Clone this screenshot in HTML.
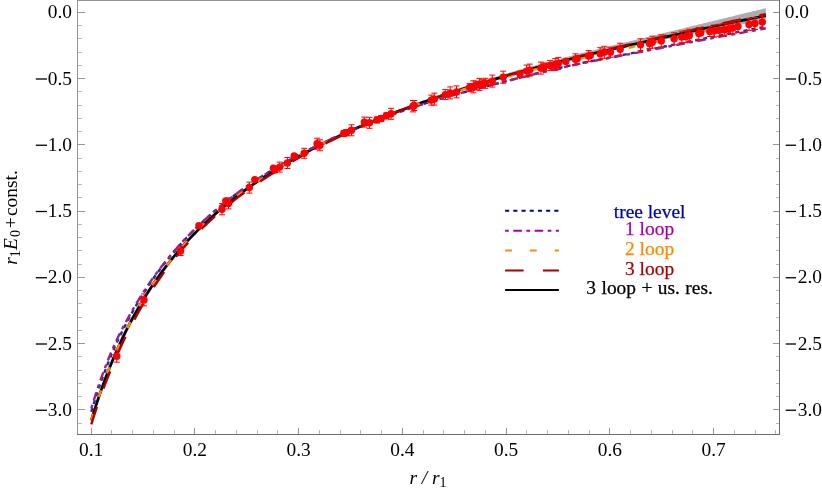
<!DOCTYPE html><html><head><meta charset="utf-8"><title>plot</title><style>html,body{margin:0;padding:0;background:#fff}svg{display:block;will-change:transform}text{font-family:"Liberation Serif",serif;}</style></head><body>
<svg width="822" height="489" viewBox="0 0 822 489">
<rect width="822" height="489" fill="#fff"/>
<path d="M91.29 418.84 L93.89 410.35 L96.48 402.23 L99.08 394.45 L101.67 386.98 L104.26 379.82 L106.86 372.93 L109.45 366.30 L112.05 359.92 L114.64 353.77 L117.24 347.83 L119.83 342.11 L122.43 336.57 L125.02 331.22 L127.61 326.04 L130.21 321.02 L132.80 316.16 L135.40 311.45 L137.99 306.88 L140.59 302.44 L143.18 298.13 L145.78 293.93 L148.37 289.86 L150.96 285.89 L153.56 282.03 L156.15 278.27 L158.75 274.60 L161.34 271.03 L163.94 267.55 L166.53 264.15 L169.13 260.83 L171.72 257.58 L174.31 254.42 L176.91 251.32 L179.50 248.29 L182.10 245.33 L184.69 242.43 L187.29 239.60 L189.88 236.82 L192.48 234.10 L195.07 231.44 L197.66 228.82 L200.26 226.26 L202.85 223.75 L205.45 221.29 L208.04 218.87 L210.64 216.50 L213.23 214.17 L215.83 211.88 L218.42 209.63 L221.01 207.42 L223.61 205.25 L226.20 203.11 L228.80 201.02 L231.39 198.95 L233.99 196.92 L236.58 194.92 L239.18 192.96 L241.77 191.02 L244.36 189.12 L246.96 187.24 L249.55 185.39 L252.15 183.57 L254.74 181.77 L257.34 180.00 L259.93 178.26 L262.53 176.54 L265.12 174.85 L267.71 173.17 L270.31 171.52 L272.90 169.90 L275.50 168.29 L278.09 166.71 L280.69 165.14 L283.28 163.60 L285.88 162.07 L288.47 160.57 L291.06 159.08 L293.66 157.61 L296.25 156.16 L298.85 154.73 L301.44 153.31 L304.04 151.91 L306.63 150.52 L309.23 149.15 L311.82 147.80 L314.41 146.46 L317.01 145.14 L319.60 143.83 L322.20 142.53 L324.79 141.25 L327.39 139.98 L329.98 138.72 L332.58 137.48 L335.17 136.25 L337.76 135.03 L340.36 133.82 L342.95 132.63 L345.55 131.44 L348.14 130.27 L350.74 129.11 L353.33 127.96 L355.93 126.82 L358.52 125.69 L361.11 124.57 L363.71 123.47 L366.30 122.37 L368.90 121.28 L371.49 120.20 L374.09 119.13 L376.68 118.07 L379.28 117.02 L381.87 115.97 L384.46 114.94 L387.06 113.91 L389.65 112.89 L392.25 111.88 L394.84 110.88 L397.44 109.89 L400.03 108.90 L402.63 107.92 L405.22 106.95 L407.81 105.99 L410.41 105.03 L413.00 104.09 L415.60 103.14 L418.19 102.21 L420.79 101.28 L423.38 100.36 L425.98 99.44 L428.57 98.54 L431.16 97.63 L433.76 96.74 L436.35 95.85 L438.95 94.96 L441.54 94.09 L444.14 93.22 L446.73 92.35 L449.33 91.49 L451.92 90.63 L454.51 89.79 L457.11 88.94 L459.70 88.10 L462.30 87.26 L464.89 86.43 L467.49 85.60 L470.08 84.77 L472.68 83.95 L475.27 83.13 L477.86 82.32 L480.46 81.51 L483.05 80.70 L485.65 79.90 L488.24 79.10 L490.84 78.31 L493.43 77.52 L496.03 76.73 L498.62 75.95 L501.21 75.17 L503.81 74.40 L506.40 73.63 L509.00 72.86 L511.59 72.11 L514.19 71.35 L516.78 70.60 L519.38 69.85 L521.97 69.11 L524.56 68.38 L527.16 67.64 L529.75 66.91 L532.35 66.19 L534.94 65.47 L537.54 64.75 L540.13 64.04 L542.73 63.33 L545.32 62.63 L547.91 61.92 L550.51 61.23 L553.10 60.53 L555.70 59.84 L558.29 59.16 L560.89 58.47 L563.48 57.79 L566.08 57.12 L568.67 56.44 L571.26 55.77 L573.86 55.11 L576.45 54.44 L579.05 53.78 L581.64 53.12 L584.24 52.47 L586.83 51.82 L589.43 51.17 L592.02 50.52 L594.61 49.88 L597.21 49.24 L599.80 48.60 L602.40 47.97 L604.99 47.33 L607.59 46.70 L610.18 46.07 L612.77 45.44 L615.37 44.81 L617.96 44.19 L620.56 43.56 L623.15 42.94 L625.75 42.31 L628.34 41.69 L630.94 41.06 L633.53 40.43 L636.12 39.81 L638.72 39.18 L641.31 38.55 L643.91 37.92 L646.50 37.29 L649.10 36.66 L651.69 36.02 L654.29 35.39 L656.88 34.75 L659.47 34.12 L662.07 33.48 L664.66 32.84 L667.26 32.21 L669.85 31.57 L672.45 30.93 L675.04 30.29 L677.64 29.66 L680.23 29.02 L682.82 28.39 L685.42 27.76 L688.01 27.12 L690.61 26.49 L693.20 25.86 L695.80 25.23 L698.39 24.61 L700.99 23.98 L703.58 23.35 L706.17 22.73 L708.77 22.10 L711.36 21.48 L713.96 20.85 L716.55 20.23 L719.15 19.60 L721.74 18.97 L724.34 18.34 L726.93 17.71 L729.52 17.06 L732.12 16.41 L734.71 15.76 L737.31 15.10 L739.90 14.45 L742.50 13.81 L745.09 13.18 L747.69 12.55 L750.28 11.93 L752.87 11.31 L755.47 10.69 L758.06 10.07 L760.66 9.45 L763.25 8.84 L765.85 8.23 L765.85 19.83 L763.25 20.32 L760.66 20.80 L758.06 21.28 L755.47 21.77 L752.87 22.26 L750.28 22.74 L747.69 23.23 L745.09 23.72 L742.50 24.21 L739.90 24.70 L737.31 25.19 L734.71 25.68 L732.12 26.18 L729.52 26.67 L726.93 27.16 L724.34 27.66 L721.74 28.15 L719.15 28.65 L716.55 29.14 L713.96 29.64 L711.36 30.14 L708.77 30.64 L706.17 31.15 L703.58 31.65 L700.99 32.16 L698.39 32.67 L695.80 33.18 L693.20 33.70 L690.61 34.21 L688.01 34.73 L685.42 35.25 L682.82 35.77 L680.23 36.30 L677.64 36.82 L675.04 37.35 L672.45 37.88 L669.85 38.41 L667.26 38.94 L664.66 39.47 L662.07 40.01 L659.47 40.54 L656.88 41.08 L654.29 41.62 L651.69 42.16 L649.10 42.70 L646.50 43.24 L643.91 43.78 L641.31 44.33 L638.72 44.87 L636.12 45.42 L633.53 45.96 L630.94 46.51 L628.34 47.06 L625.75 47.61 L623.15 48.17 L620.56 48.72 L617.96 49.28 L615.37 49.84 L612.77 50.40 L610.18 50.97 L607.59 51.54 L604.99 52.11 L602.40 52.68 L599.80 53.26 L597.21 53.83 L594.61 54.41 L592.02 54.99 L589.43 55.57 L586.83 56.15 L584.24 56.74 L581.64 57.33 L579.05 57.92 L576.45 58.52 L573.86 59.11 L571.26 59.71 L568.67 60.32 L566.08 60.92 L563.48 61.53 L560.89 62.15 L558.29 62.77 L555.70 63.39 L553.10 64.01 L550.51 64.64 L547.91 65.27 L545.32 65.91 L542.73 66.56 L540.13 67.20 L537.54 67.85 L534.94 68.51 L532.35 69.17 L529.75 69.84 L527.16 70.51 L524.56 71.19 L521.97 71.87 L519.38 72.56 L516.78 73.25 L514.19 73.96 L511.59 74.66 L509.00 75.37 L506.40 76.09 L503.81 76.82 L501.21 77.55 L498.62 78.28 L496.03 79.02 L493.43 79.77 L490.84 80.52 L488.24 81.28 L485.65 82.04 L483.05 82.81 L480.46 83.58 L477.86 84.36 L475.27 85.14 L472.68 85.93 L470.08 86.73 L467.49 87.53 L464.89 88.34 L462.30 89.16 L459.70 89.98 L457.11 90.81 L454.51 91.64 L451.92 92.48 L449.33 93.33 L446.73 94.18 L444.14 95.04 L441.54 95.91 L438.95 96.79 L436.35 97.67 L433.76 98.55 L431.16 99.45 L428.57 100.35 L425.98 101.26 L423.38 102.17 L420.79 103.09 L418.19 104.02 L415.60 104.96 L413.00 105.91 L410.41 106.86 L407.81 107.82 L405.22 108.79 L402.63 109.76 L400.03 110.75 L397.44 111.74 L394.84 112.74 L392.25 113.75 L389.65 114.76 L387.06 115.79 L384.46 116.83 L381.87 117.87 L379.28 118.92 L376.68 119.98 L374.09 121.06 L371.49 122.14 L368.90 123.23 L366.30 124.33 L363.71 125.44 L361.11 126.56 L358.52 127.69 L355.93 128.84 L353.33 129.99 L350.74 131.15 L348.14 132.33 L345.55 133.52 L342.95 134.72 L340.36 135.93 L337.76 137.15 L335.17 138.38 L332.58 139.63 L329.98 140.89 L327.39 142.16 L324.79 143.45 L322.20 144.75 L319.60 146.06 L317.01 147.39 L314.41 148.73 L311.82 150.09 L309.23 151.46 L306.63 152.85 L304.04 154.26 L301.44 155.68 L298.85 157.11 L296.25 158.56 L293.66 160.04 L291.06 161.52 L288.47 163.03 L285.88 164.56 L283.28 166.10 L280.69 167.67 L278.09 169.26 L275.50 170.86 L272.90 172.49 L270.31 174.15 L267.71 175.82 L265.12 177.52 L262.53 179.24 L259.93 180.98 L257.34 182.75 L254.74 184.55 L252.15 186.37 L249.55 188.22 L246.96 190.10 L244.36 192.01 L241.77 193.94 L239.18 195.91 L236.58 197.91 L233.99 199.94 L231.39 202.00 L228.80 204.10 L226.20 206.23 L223.61 208.40 L221.01 210.61 L218.42 212.85 L215.83 215.14 L213.23 217.46 L210.64 219.83 L208.04 222.24 L205.45 224.70 L202.85 227.20 L200.26 229.76 L197.66 232.36 L195.07 235.01 L192.48 237.73 L189.88 240.50 L187.29 243.33 L184.69 246.22 L182.10 249.18 L179.50 252.20 L176.91 255.30 L174.31 258.46 L171.72 261.70 L169.13 265.01 L166.53 268.40 L163.94 271.88 L161.34 275.44 L158.75 279.08 L156.15 282.82 L153.56 286.66 L150.96 290.59 L148.37 294.63 L145.78 298.77 L143.18 303.03 L140.59 307.41 L137.99 311.92 L135.40 316.55 L132.80 321.33 L130.21 326.26 L127.61 331.34 L125.02 336.59 L122.43 342.01 L119.83 347.61 L117.24 353.40 L114.64 359.40 L112.05 365.62 L109.45 372.07 L106.86 378.76 L104.26 385.72 L101.67 392.95 L99.08 400.48 L96.48 408.33 L93.89 416.52 L91.29 425.07Z" fill="#adadad"/>
<path d="M91.29 420.43 L93.89 411.94 L96.48 403.82 L99.08 396.04 L101.67 388.57 L104.26 381.41 L106.86 374.52 L109.45 367.89 L112.05 361.51 L114.64 355.36 L117.24 349.42 L119.83 343.70 L122.43 338.16 L125.02 332.81 L127.61 327.63 L130.21 322.61 L132.80 317.75 L135.40 313.04 L137.99 308.47 L140.59 304.03 L143.18 299.72 L145.78 295.52 L148.37 291.45 L150.96 287.48 L153.56 283.62 L156.15 279.86 L158.75 276.19 L161.34 272.62 L163.94 269.14 L166.53 265.74 L169.13 262.42 L171.72 259.17 L174.31 256.01 L176.91 252.91 L179.50 249.88 L182.10 246.92 L184.69 244.02 L187.29 241.19 L189.88 238.41 L192.48 235.69 L195.07 233.03 L197.66 230.41 L200.26 227.85 L202.85 225.34 L205.45 222.88 L208.04 220.46 L210.64 218.09 L213.23 215.76 L215.83 213.47 L218.42 211.22 L221.01 209.01 L223.61 206.84 L226.20 204.70 L228.80 202.61 L231.39 200.54 L233.99 198.51 L236.58 196.51 L239.18 194.55 L241.77 192.61 L244.36 190.71 L246.96 188.83 L249.55 186.98 L252.15 185.16 L254.74 183.36 L257.34 181.59 L259.93 179.85 L262.53 178.13 L265.12 176.44 L267.71 174.76 L270.31 173.11 L272.90 171.49 L275.50 169.88 L278.09 168.30 L280.69 166.73 L283.28 165.19 L285.88 163.66 L288.47 162.16 L291.06 160.67 L293.66 159.20 L296.25 157.75 L298.85 156.32 L301.44 154.90 L304.04 153.50 L306.63 152.11 L309.23 150.75 L311.82 149.39 L314.41 148.05 L317.01 146.73 L319.60 145.42 L322.20 144.13 L324.79 142.85 L327.39 141.58 L329.98 140.32 L332.58 139.08 L335.17 137.85 L337.76 136.64 L340.36 135.43 L342.95 134.24 L345.55 133.06 L348.14 131.89 L350.74 130.73 L353.33 129.59 L355.93 128.45 L358.52 127.33 L361.11 126.21 L363.71 125.11 L366.30 124.01 L368.90 122.93 L371.49 121.85 L374.09 120.79 L376.68 119.73 L379.28 118.68 L381.87 117.64 L384.46 116.61 L387.06 115.59 L389.65 114.58 L392.25 113.58 L394.84 112.58 L397.44 111.59 L400.03 110.61 L402.63 109.64 L405.22 108.67 L407.81 107.72 L410.41 106.77 L413.00 105.83 L415.60 104.89 L418.19 103.96 L420.79 103.04 L423.38 102.13 L425.98 101.22 L428.57 100.32 L431.16 99.42 L433.76 98.53 L436.35 97.65 L438.95 96.77 L441.54 95.90 L444.14 95.04 L446.73 94.18 L449.33 93.33 L451.92 92.48 L454.51 91.64 L457.11 90.81 L459.70 89.98 L462.30 89.15 L464.89 88.33 L467.49 87.52 L470.08 86.71 L472.68 85.90 L475.27 85.11 L477.86 84.31 L480.46 83.52 L483.05 82.74 L485.65 81.96 L488.24 81.18 L490.84 80.41 L493.43 79.65 L496.03 78.89 L498.62 78.13 L501.21 77.38 L503.81 76.63 L506.40 75.88 L509.00 75.14 L511.59 74.41 L514.19 73.68 L516.78 72.96 L519.38 72.24 L521.97 71.53 L524.56 70.83 L527.16 70.12 L529.75 69.43 L532.35 68.74 L534.94 68.05 L537.54 67.37 L540.13 66.69 L542.73 66.01 L545.32 65.34 L547.91 64.68 L550.51 64.01 L553.10 63.36 L555.70 62.70 L558.29 62.05 L560.89 61.40 L563.48 60.76 L566.08 60.12 L568.67 59.48 L571.26 58.85 L573.86 58.22 L576.45 57.59 L579.05 56.96 L581.64 56.34 L584.24 55.72 L586.83 55.10 L589.43 54.49 L592.02 53.88 L594.61 53.26 L597.21 52.66 L599.80 52.05 L602.40 51.44 L604.99 50.84 L607.59 50.24 L610.18 49.64 L612.77 49.04 L615.37 48.45 L617.96 47.85 L620.56 47.26 L623.15 46.66 L625.75 46.07 L628.34 45.48 L630.94 44.89 L633.53 44.30 L636.12 43.71 L638.72 43.12 L641.31 42.53 L643.91 41.95 L646.50 41.36 L649.10 40.77 L651.69 40.18 L654.29 39.59 L656.88 39.00 L659.47 38.41 L662.07 37.83 L664.66 37.24 L667.26 36.66 L669.85 36.07 L672.45 35.49 L675.04 34.91 L677.64 34.33 L680.23 33.75 L682.82 33.17 L685.42 32.59 L688.01 32.02 L690.61 31.45 L693.20 30.88 L695.80 30.31 L698.39 29.74 L700.99 29.18 L703.58 28.61 L706.17 28.05 L708.77 27.49 L711.36 26.94 L713.96 26.39 L716.55 25.84 L719.15 25.29 L721.74 24.74 L724.34 24.19 L726.93 23.65 L729.52 23.10 L732.12 22.56 L734.71 22.02 L737.31 21.48 L739.90 20.94 L742.50 20.40 L745.09 19.87 L747.69 19.33 L750.28 18.80 L752.87 18.27 L755.47 17.74 L758.06 17.21 L760.66 16.68 L763.25 16.15 L765.85 15.63" fill="none" stroke="#000" stroke-width="2.7"/>
<path d="M91.29 411.82 L93.89 403.34 L96.48 395.24 L99.08 387.49 L101.67 380.07 L104.26 372.96 L106.86 366.14 L109.45 359.59 L112.05 353.29 L114.64 347.26 L117.24 341.54 L119.83 336.08 L122.43 330.83 L125.02 325.76 L127.61 320.84 L130.21 316.01 L132.80 311.30 L135.40 306.74 L137.99 302.31 L140.59 298.01 L143.18 293.82 L145.78 289.76 L148.37 285.80 L150.96 281.95 L153.56 278.21 L156.15 274.55 L158.75 270.99 L161.34 267.52 L163.94 264.13 L166.53 260.83 L169.13 257.60 L171.72 254.45 L174.31 251.38 L176.91 248.37 L179.50 245.43 L182.10 242.55 L184.69 239.74 L187.29 236.99 L189.88 234.30 L192.48 231.67 L195.07 229.09 L197.66 226.56 L200.26 224.08 L202.85 221.65 L205.45 219.26 L208.04 216.92 L210.64 214.63 L213.23 212.37 L215.83 210.16 L218.42 207.99 L221.01 205.85 L223.61 203.75 L226.20 201.69 L228.80 199.66 L231.39 197.67 L233.99 195.70 L236.58 193.77 L239.18 191.88 L241.77 190.01 L244.36 188.17 L246.96 186.35 L249.55 184.57 L252.15 182.81 L254.74 181.08 L257.34 179.38 L259.93 177.70 L262.53 176.04 L265.12 174.41 L267.71 172.80 L270.31 171.21 L272.90 169.64 L275.50 168.10 L278.09 166.58 L280.69 165.07 L283.28 163.59 L285.88 162.12 L288.47 160.67 L291.06 159.24 L293.66 157.82 L296.25 156.42 L298.85 155.04 L301.44 153.68 L304.04 152.33 L306.63 150.99 L309.23 149.67 L311.82 148.37 L314.41 147.08 L317.01 145.81 L319.60 144.55 L322.20 143.30 L324.79 142.07 L327.39 140.85 L329.98 139.65 L332.58 138.46 L335.17 137.28 L337.76 136.12 L340.36 134.97 L342.95 133.83 L345.55 132.70 L348.14 131.59 L350.74 130.49 L353.33 129.40 L355.93 128.33 L358.52 127.27 L361.11 126.21 L363.71 125.18 L366.30 124.15 L368.90 123.13 L371.49 122.13 L374.09 121.13 L376.68 120.15 L379.28 119.17 L381.87 118.21 L384.46 117.25 L387.06 116.31 L389.65 115.37 L392.25 114.45 L394.84 113.53 L397.44 112.63 L400.03 111.73 L402.63 110.84 L405.22 109.96 L407.81 109.09 L410.41 108.22 L413.00 107.37 L415.60 106.52 L418.19 105.68 L420.79 104.84 L423.38 104.02 L425.98 103.20 L428.57 102.39 L431.16 101.59 L433.76 100.79 L436.35 100.01 L438.95 99.23 L441.54 98.47 L444.14 97.71 L446.73 96.97 L449.33 96.23 L451.92 95.50 L454.51 94.79 L457.11 94.07 L459.70 93.37 L462.30 92.67 L464.89 91.98 L467.49 91.29 L470.08 90.60 L472.68 89.92 L475.27 89.25 L477.86 88.57 L480.46 87.90 L483.05 87.23 L485.65 86.56 L488.24 85.90 L490.84 85.23 L493.43 84.56 L496.03 83.89 L498.62 83.22 L501.21 82.55 L503.81 81.87 L506.40 81.19 L509.00 80.51 L511.59 79.83 L514.19 79.16 L516.78 78.49 L519.38 77.82 L521.97 77.15 L524.56 76.48 L527.16 75.82 L529.75 75.17 L532.35 74.51 L534.94 73.86 L537.54 73.21 L540.13 72.57 L542.73 71.93 L545.32 71.30 L547.91 70.67 L550.51 70.05 L553.10 69.43 L555.70 68.82 L558.29 68.21 L560.89 67.61 L563.48 67.02 L566.08 66.43 L568.67 65.85 L571.26 65.28 L573.86 64.71 L576.45 64.16 L579.05 63.61 L581.64 63.07 L584.24 62.53 L586.83 62.00 L589.43 61.47 L592.02 60.95 L594.61 60.44 L597.21 59.92 L599.80 59.42 L602.40 58.91 L604.99 58.40 L607.59 57.90 L610.18 57.40 L612.77 56.90 L615.37 56.40 L617.96 55.90 L620.56 55.40 L623.15 54.89 L625.75 54.39 L628.34 53.88 L630.94 53.37 L633.53 52.86 L636.12 52.34 L638.72 51.82 L641.31 51.29 L643.91 50.76 L646.50 50.23 L649.10 49.70 L651.69 49.17 L654.29 48.64 L656.88 48.11 L659.47 47.58 L662.07 47.05 L664.66 46.52 L667.26 45.99 L669.85 45.46 L672.45 44.94 L675.04 44.41 L677.64 43.88 L680.23 43.36 L682.82 42.83 L685.42 42.31 L688.01 41.79 L690.61 41.27 L693.20 40.75 L695.80 40.23 L698.39 39.71 L700.99 39.20 L703.58 38.68 L706.17 38.17 L708.77 37.66 L711.36 37.15 L713.96 36.64 L716.55 36.13 L719.15 35.63 L721.74 35.12 L724.34 34.61 L726.93 34.11 L729.52 33.60 L732.12 33.10 L734.71 32.60 L737.31 32.09 L739.90 31.59 L742.50 31.08 L745.09 30.58 L747.69 30.08 L750.28 29.57 L752.87 29.07 L755.47 28.57 L758.06 28.06 L760.66 27.56 L763.25 27.06 L765.85 26.55" fill="none" stroke="#2a24a8" stroke-width="2.4" stroke-dasharray="4.1 4.1"/>
<path d="M91.29 408.51 L93.89 400.03 L96.48 391.94 L99.08 384.22 L101.67 376.83 L104.26 369.76 L106.86 362.99 L109.45 356.48 L112.05 350.24 L114.64 344.31 L117.24 338.74 L119.83 333.48 L122.43 328.46 L125.02 323.60 L127.61 318.86 L130.21 314.17 L132.80 309.57 L135.40 305.11 L137.99 300.78 L140.59 296.57 L143.18 292.48 L145.78 288.51 L148.37 284.64 L150.96 280.87 L153.56 277.20 L156.15 273.63 L158.75 270.14 L161.34 266.74 L163.94 263.42 L166.53 260.18 L169.13 257.01 L171.72 253.91 L174.31 250.89 L176.91 247.93 L179.50 245.03 L182.10 242.19 L184.69 239.42 L187.29 236.70 L189.88 234.04 L192.48 231.42 L195.07 228.87 L197.66 226.36 L200.26 223.90 L202.85 221.48 L205.45 219.12 L208.04 216.79 L210.64 214.51 L213.23 212.27 L215.83 210.07 L218.42 207.90 L221.01 205.78 L223.61 203.69 L226.20 201.63 L228.80 199.61 L231.39 197.62 L233.99 195.66 L236.58 193.74 L239.18 191.84 L241.77 189.98 L244.36 188.14 L246.96 186.33 L249.55 184.55 L252.15 182.80 L254.74 181.07 L257.34 179.36 L259.93 177.68 L262.53 176.03 L265.12 174.40 L267.71 172.79 L270.31 171.20 L272.90 169.64 L275.50 168.10 L278.09 166.58 L280.69 165.07 L283.28 163.59 L285.88 162.12 L288.47 160.68 L291.06 159.25 L293.66 157.83 L296.25 156.43 L298.85 155.05 L301.44 153.69 L304.04 152.34 L306.63 151.00 L309.23 149.69 L311.82 148.38 L314.41 147.09 L317.01 145.82 L319.60 144.56 L322.20 143.31 L324.79 142.08 L327.39 140.86 L329.98 139.66 L332.58 138.46 L335.17 137.29 L337.76 136.12 L340.36 134.97 L342.95 133.83 L345.55 132.71 L348.14 131.59 L350.74 130.49 L353.33 129.40 L355.93 128.33 L358.52 127.27 L361.11 126.21 L363.71 125.18 L366.30 124.15 L368.90 123.13 L371.49 122.13 L374.09 121.13 L376.68 120.15 L379.28 119.17 L381.87 118.21 L384.46 117.25 L387.06 116.31 L389.65 115.37 L392.25 114.45 L394.84 113.53 L397.44 112.63 L400.03 111.73 L402.63 110.84 L405.22 109.96 L407.81 109.09 L410.41 108.22 L413.00 107.37 L415.60 106.52 L418.19 105.68 L420.79 104.84 L423.38 104.02 L425.98 103.20 L428.57 102.39 L431.16 101.59 L433.76 100.79 L436.35 100.01 L438.95 99.23 L441.54 98.46 L444.14 97.71 L446.73 96.96 L449.33 96.22 L451.92 95.49 L454.51 94.77 L457.11 94.05 L459.70 93.34 L462.30 92.64 L464.89 91.94 L467.49 91.25 L470.08 90.57 L472.68 89.88 L475.27 89.21 L477.86 88.53 L480.46 87.86 L483.05 87.19 L485.65 86.52 L488.24 85.85 L490.84 85.19 L493.43 84.52 L496.03 83.86 L498.62 83.19 L501.21 82.53 L503.81 81.86 L506.40 81.19 L509.00 80.52 L511.59 79.86 L514.19 79.19 L516.78 78.53 L519.38 77.87 L521.97 77.21 L524.56 76.56 L527.16 75.91 L529.75 75.26 L532.35 74.62 L534.94 73.98 L537.54 73.34 L540.13 72.71 L542.73 72.09 L545.32 71.46 L547.91 70.85 L550.51 70.24 L553.10 69.63 L555.70 69.03 L558.29 68.43 L560.89 67.85 L563.48 67.26 L566.08 66.69 L568.67 66.12 L571.26 65.56 L573.86 65.00 L576.45 64.45 L579.05 63.91 L581.64 63.38 L584.24 62.85 L586.83 62.32 L589.43 61.80 L592.02 61.29 L594.61 60.77 L597.21 60.27 L599.80 59.76 L602.40 59.26 L604.99 58.76 L607.59 58.27 L610.18 57.77 L612.77 57.28 L615.37 56.78 L617.96 56.29 L620.56 55.80 L623.15 55.31 L625.75 54.82 L628.34 54.32 L630.94 53.83 L633.53 53.33 L636.12 52.83 L638.72 52.33 L641.31 51.82 L643.91 51.32 L646.50 50.81 L649.10 50.30 L651.69 49.80 L654.29 49.29 L656.88 48.78 L659.47 48.28 L662.07 47.77 L664.66 47.26 L667.26 46.76 L669.85 46.25 L672.45 45.75 L675.04 45.24 L677.64 44.74 L680.23 44.24 L682.82 43.74 L685.42 43.24 L688.01 42.74 L690.61 42.24 L693.20 41.75 L695.80 41.26 L698.39 40.76 L700.99 40.27 L703.58 39.78 L706.17 39.30 L708.77 38.81 L711.36 38.33 L713.96 37.85 L716.55 37.37 L719.15 36.89 L721.74 36.41 L724.34 35.93 L726.93 35.46 L729.52 34.98 L732.12 34.51 L734.71 34.03 L737.31 33.56 L739.90 33.09 L742.50 32.61 L745.09 32.14 L747.69 31.67 L750.28 31.20 L752.87 30.73 L755.47 30.26 L758.06 29.80 L760.66 29.33 L763.25 28.86 L765.85 28.39" fill="none" stroke="#962387" stroke-width="2.4" stroke-dasharray="8.6 4.5 3.7 4.5" stroke-dashoffset="13.1"/>
<path d="M91.29 420.43 L93.89 411.94 L96.48 403.82 L99.08 396.04 L101.67 388.57 L104.26 381.41 L106.86 374.52 L109.45 367.89 L112.05 361.51 L114.64 355.36 L117.24 349.42 L119.83 343.70 L122.43 338.16 L125.02 332.81 L127.61 327.63 L130.21 322.61 L132.80 317.75 L135.40 313.04 L137.99 308.47 L140.59 304.03 L143.18 299.72 L145.78 295.52 L148.37 291.45 L150.96 287.48 L153.56 283.62 L156.15 279.86 L158.75 276.19 L161.34 272.62 L163.94 269.14 L166.53 265.74 L169.13 262.42 L171.72 259.17 L174.31 256.01 L176.91 252.91 L179.50 249.88 L182.10 246.92 L184.69 244.02 L187.29 241.19 L189.88 238.41 L192.48 235.69 L195.07 233.03 L197.66 230.41 L200.26 227.85 L202.85 225.34 L205.45 222.88 L208.04 220.46 L210.64 218.09 L213.23 215.76 L215.83 213.47 L218.42 211.22 L221.01 209.01 L223.61 206.84 L226.20 204.70 L228.80 202.61 L231.39 200.54 L233.99 198.51 L236.58 196.51 L239.18 194.55 L241.77 192.61 L244.36 190.71 L246.96 188.83 L249.55 186.98 L252.15 185.16 L254.74 183.36 L257.34 181.59 L259.93 179.85 L262.53 178.13 L265.12 176.44 L267.71 174.76 L270.31 173.11 L272.90 171.49 L275.50 169.88 L278.09 168.30 L280.69 166.73 L283.28 165.19 L285.88 163.66 L288.47 162.16 L291.06 160.67 L293.66 159.20 L296.25 157.75 L298.85 156.32 L301.44 154.90 L304.04 153.50 L306.63 152.11 L309.23 150.75 L311.82 149.39 L314.41 148.05 L317.01 146.73 L319.60 145.42 L322.20 144.13 L324.79 142.85 L327.39 141.58 L329.98 140.32 L332.58 139.08 L335.17 137.85 L337.76 136.64 L340.36 135.43 L342.95 134.24 L345.55 133.06 L348.14 131.89 L350.74 130.73 L353.33 129.59 L355.93 128.45 L358.52 127.33 L361.11 126.21 L363.71 125.11 L366.30 124.01 L368.90 122.93 L371.49 121.85 L374.09 120.79 L376.68 119.73 L379.28 118.68 L381.87 117.64 L384.46 116.61 L387.06 115.59 L389.65 114.58 L392.25 113.58 L394.84 112.58 L397.44 111.59 L400.03 110.61 L402.63 109.64 L405.22 108.68 L407.81 107.72 L410.41 106.78 L413.00 105.85 L415.60 104.92 L418.19 104.01 L420.79 103.10 L423.38 102.20 L425.98 101.31 L428.57 100.43 L431.16 99.56 L433.76 98.70 L436.35 97.84 L438.95 96.99 L441.54 96.15 L444.14 95.31 L446.73 94.48 L449.33 93.66 L451.92 92.85 L454.51 92.04 L457.11 91.24 L459.70 90.44 L462.30 89.65 L464.89 88.87 L467.49 88.09 L470.08 87.31 L472.68 86.55 L475.27 85.78 L477.86 85.02 L480.46 84.27 L483.05 83.52 L485.65 82.77 L488.24 82.03 L490.84 81.30 L493.43 80.56 L496.03 79.83 L498.62 79.11 L501.21 78.38 L503.81 77.66 L506.40 76.95 L509.00 76.24 L511.59 75.53 L514.19 74.83 L516.78 74.14 L519.38 73.45 L521.97 72.77 L524.56 72.09 L527.16 71.42 L529.75 70.76 L532.35 70.09 L534.94 69.44 L537.54 68.79 L540.13 68.14 L542.73 67.50 L545.32 66.86 L547.91 66.23 L550.51 65.60 L553.10 64.97 L555.70 64.35 L558.29 63.73 L560.89 63.11 L563.48 62.50 L566.08 61.89 L568.67 61.29 L571.26 60.68 L573.86 60.08 L576.45 59.48 L579.05 58.89 L581.64 58.30 L584.24 57.70 L586.83 57.12 L589.43 56.53 L592.02 55.94 L594.61 55.36 L597.21 54.78 L599.80 54.20 L602.40 53.62 L604.99 53.04 L607.59 52.46 L610.18 51.88 L612.77 51.31 L615.37 50.73 L617.96 50.15 L620.56 49.58 L623.15 49.00 L625.75 48.43 L628.34 47.85 L630.94 47.28 L633.53 46.70 L636.12 46.13 L638.72 45.55 L641.31 44.98 L643.91 44.40 L646.50 43.83 L649.10 43.25 L651.69 42.68 L654.29 42.10 L656.88 41.53 L659.47 40.96 L662.07 40.38 L664.66 39.81 L667.26 39.24 L669.85 38.67 L672.45 38.10 L675.04 37.53 L677.64 36.96 L680.23 36.40 L682.82 35.83 L685.42 35.27 L688.01 34.70 L690.61 34.14 L693.20 33.58 L695.80 33.03 L698.39 32.47 L700.99 31.92 L703.58 31.36 L706.17 30.81 L708.77 30.27 L711.36 29.72 L713.96 29.18 L716.55 28.64 L719.15 28.10 L721.74 27.56 L724.34 27.02 L726.93 26.48 L729.52 25.95 L732.12 25.41 L734.71 24.88 L737.31 24.34 L739.90 23.81 L742.50 23.28 L745.09 22.75 L747.69 22.22 L750.28 21.69 L752.87 21.16 L755.47 20.64 L758.06 20.11 L760.66 19.59 L763.25 19.06 L765.85 18.54" fill="none" stroke="#ff8800" stroke-width="2.4" stroke-dasharray="6.8 18"/>
<path d="M91.29 424.38 L93.89 416.17 L96.48 408.30 L99.08 400.74 L101.67 393.46 L104.26 386.44 L106.86 379.67 L109.45 373.13 L112.05 366.80 L114.64 360.66 L117.24 354.69 L119.83 348.89 L122.43 343.25 L125.02 337.78 L127.61 332.49 L130.21 327.37 L132.80 322.41 L135.40 317.60 L137.99 312.92 L140.59 308.37 L143.18 303.94 L145.78 299.63 L148.37 295.44 L150.96 291.35 L153.56 287.37 L156.15 283.48 L158.75 279.70 L161.34 276.01 L163.94 272.40 L166.53 268.89 L169.13 265.45 L171.72 262.10 L174.31 258.83 L176.91 255.64 L179.50 252.52 L182.10 249.47 L184.69 246.50 L187.29 243.59 L189.88 240.76 L192.48 237.99 L195.07 235.28 L197.66 232.63 L200.26 230.04 L202.85 227.50 L205.45 225.01 L208.04 222.56 L210.64 220.16 L213.23 217.81 L215.83 215.50 L218.42 213.23 L221.01 211.00 L223.61 208.81 L226.20 206.66 L228.80 204.54 L231.39 202.46 L233.99 200.41 L236.58 198.40 L239.18 196.42 L241.77 194.47 L244.36 192.55 L246.96 190.65 L249.55 188.79 L252.15 186.95 L254.74 185.14 L257.34 183.35 L259.93 181.59 L262.53 179.86 L265.12 178.14 L267.71 176.45 L270.31 174.78 L272.90 173.13 L275.50 171.50 L278.09 169.89 L280.69 168.29 L283.28 166.72 L285.88 165.16 L288.47 163.62 L291.06 162.10 L293.66 160.59 L296.25 159.10 L298.85 157.63 L301.44 156.17 L304.04 154.72 L306.63 153.29 L309.23 151.88 L311.82 150.48 L314.41 149.10 L317.01 147.73 L319.60 146.38 L322.20 145.04 L324.79 143.71 L327.39 142.40 L329.98 141.10 L332.58 139.82 L335.17 138.55 L337.76 137.30 L340.36 136.05 L342.95 134.83 L345.55 133.61 L348.14 132.41 L350.74 131.22 L353.33 130.05 L355.93 128.89 L358.52 127.74 L361.11 126.61 L363.71 125.49 L366.30 124.38 L368.90 123.28 L371.49 122.19 L374.09 121.11 L376.68 120.03 L379.28 118.97 L381.87 117.92 L384.46 116.88 L387.06 115.85 L389.65 114.82 L392.25 113.81 L394.84 112.80 L397.44 111.80 L400.03 110.81 L402.63 109.83 L405.22 108.86 L407.81 107.89 L410.41 106.93 L413.00 105.98 L415.60 105.04 L418.19 104.10 L420.79 103.17 L423.38 102.25 L425.98 101.33 L428.57 100.42 L431.16 99.51 L433.76 98.62 L436.35 97.72 L438.95 96.84 L441.54 95.96 L444.14 95.08 L446.73 94.21 L449.33 93.35 L451.92 92.49 L454.51 91.64 L457.11 90.79 L459.70 89.95 L462.30 89.11 L464.89 88.28 L467.49 87.45 L470.08 86.63 L472.68 85.82 L475.27 85.00 L477.86 84.20 L480.46 83.40 L483.05 82.60 L485.65 81.81 L488.24 81.02 L490.84 80.23 L493.43 79.45 L496.03 78.68 L498.62 77.91 L501.21 77.14 L503.81 76.38 L506.40 75.62 L509.00 74.87 L511.59 74.12 L514.19 73.38 L516.78 72.64 L519.38 71.91 L521.97 71.19 L524.56 70.47 L527.16 69.75 L529.75 69.04 L532.35 68.33 L534.94 67.63 L537.54 66.94 L540.13 66.24 L542.73 65.56 L545.32 64.87 L547.91 64.19 L550.51 63.52 L553.10 62.84 L555.70 62.18 L558.29 61.51 L560.89 60.85 L563.48 60.19 L566.08 59.54 L568.67 58.89 L571.26 58.24 L573.86 57.60 L576.45 56.95 L579.05 56.32 L581.64 55.68 L584.24 55.05 L586.83 54.42 L589.43 53.79 L592.02 53.16 L594.61 52.54 L597.21 51.92 L599.80 51.30 L602.40 50.68 L604.99 50.07 L607.59 49.46 L610.18 48.84 L612.77 48.23 L615.37 47.63 L617.96 47.02 L620.56 46.41 L623.15 45.81 L625.75 45.21 L628.34 44.60 L630.94 44.00 L633.53 43.40 L636.12 42.80 L638.72 42.20 L641.31 41.60 L643.91 41.00 L646.50 40.40 L649.10 39.80 L651.69 39.20 L654.29 38.60 L656.88 38.00 L659.47 37.40 L662.07 36.81 L664.66 36.21 L667.26 35.61 L669.85 35.02 L672.45 34.42 L675.04 33.83 L677.64 33.24 L680.23 32.65 L682.82 32.06 L685.42 31.47 L688.01 30.89 L690.61 30.31 L693.20 29.73 L695.80 29.15 L698.39 28.57 L700.99 27.99 L703.58 27.42 L706.17 26.85 L708.77 26.28 L711.36 25.72 L713.96 25.15 L716.55 24.59 L719.15 24.03 L721.74 23.48 L724.34 22.92 L726.93 22.37 L729.52 21.81 L732.12 21.26 L734.71 20.71 L737.31 20.16 L739.90 19.61 L742.50 19.06 L745.09 18.52 L747.69 17.97 L750.28 17.43 L752.87 16.89 L755.47 16.35 L758.06 15.81 L760.66 15.27 L763.25 14.74 L765.85 14.20" fill="none" stroke="#aa0000" stroke-width="2.4" stroke-dasharray="18.5 19.3"/>
<g stroke-width="1" fill="none" shape-rendering="crispEdges">
<path stroke="#949494" d="M77.5 12.5h7M779.5 12.5h-7"/>
<path stroke="#b8b8b8" d="M77.5 25.5h4M779.5 25.5h-4"/>
<path stroke="#b8b8b8" d="M77.5 38.5h4M779.5 38.5h-4"/>
<path stroke="#b8b8b8" d="M77.5 52.5h4M779.5 52.5h-4"/>
<path stroke="#b8b8b8" d="M77.5 65.5h4M779.5 65.5h-4"/>
<path stroke="#949494" d="M77.5 78.5h7M779.5 78.5h-7"/>
<path stroke="#b8b8b8" d="M77.5 91.5h4M779.5 91.5h-4"/>
<path stroke="#b8b8b8" d="M77.5 105.5h4M779.5 105.5h-4"/>
<path stroke="#b8b8b8" d="M77.5 118.5h4M779.5 118.5h-4"/>
<path stroke="#b8b8b8" d="M77.5 131.5h4M779.5 131.5h-4"/>
<path stroke="#949494" d="M77.5 144.5h7M779.5 144.5h-7"/>
<path stroke="#b8b8b8" d="M77.5 158.5h4M779.5 158.5h-4"/>
<path stroke="#b8b8b8" d="M77.5 171.5h4M779.5 171.5h-4"/>
<path stroke="#b8b8b8" d="M77.5 184.5h4M779.5 184.5h-4"/>
<path stroke="#b8b8b8" d="M77.5 197.5h4M779.5 197.5h-4"/>
<path stroke="#949494" d="M77.5 211.5h7M779.5 211.5h-7"/>
<path stroke="#b8b8b8" d="M77.5 224.5h4M779.5 224.5h-4"/>
<path stroke="#b8b8b8" d="M77.5 237.5h4M779.5 237.5h-4"/>
<path stroke="#b8b8b8" d="M77.5 250.5h4M779.5 250.5h-4"/>
<path stroke="#b8b8b8" d="M77.5 264.5h4M779.5 264.5h-4"/>
<path stroke="#949494" d="M77.5 277.5h7M779.5 277.5h-7"/>
<path stroke="#b8b8b8" d="M77.5 290.5h4M779.5 290.5h-4"/>
<path stroke="#b8b8b8" d="M77.5 303.5h4M779.5 303.5h-4"/>
<path stroke="#b8b8b8" d="M77.5 317.5h4M779.5 317.5h-4"/>
<path stroke="#b8b8b8" d="M77.5 330.5h4M779.5 330.5h-4"/>
<path stroke="#949494" d="M77.5 343.5h7M779.5 343.5h-7"/>
<path stroke="#b8b8b8" d="M77.5 356.5h4M779.5 356.5h-4"/>
<path stroke="#b8b8b8" d="M77.5 370.5h4M779.5 370.5h-4"/>
<path stroke="#b8b8b8" d="M77.5 383.5h4M779.5 383.5h-4"/>
<path stroke="#b8b8b8" d="M77.5 396.5h4M779.5 396.5h-4"/>
<path stroke="#949494" d="M77.5 409.5h7M779.5 409.5h-7"/>
<path stroke="#b8b8b8" d="M77.5 423.5h4M779.5 423.5h-4"/>
<path stroke="#949494" d="M91.5 434.5v-6.5"/>
<path stroke="#b8b8b8" d="M111.5 434.5v-4.5"/>
<path stroke="#b8b8b8" d="M132.5 434.5v-4.5"/>
<path stroke="#b8b8b8" d="M153.5 434.5v-4.5"/>
<path stroke="#b8b8b8" d="M174.5 434.5v-4.5"/>
<path stroke="#949494" d="M194.5 434.5v-6.5"/>
<path stroke="#b8b8b8" d="M215.5 434.5v-4.5"/>
<path stroke="#b8b8b8" d="M236.5 434.5v-4.5"/>
<path stroke="#b8b8b8" d="M257.5 434.5v-4.5"/>
<path stroke="#b8b8b8" d="M277.5 434.5v-4.5"/>
<path stroke="#949494" d="M298.5 434.5v-6.5"/>
<path stroke="#b8b8b8" d="M319.5 434.5v-4.5"/>
<path stroke="#b8b8b8" d="M340.5 434.5v-4.5"/>
<path stroke="#b8b8b8" d="M360.5 434.5v-4.5"/>
<path stroke="#b8b8b8" d="M381.5 434.5v-4.5"/>
<path stroke="#949494" d="M402.5 434.5v-6.5"/>
<path stroke="#b8b8b8" d="M423.5 434.5v-4.5"/>
<path stroke="#b8b8b8" d="M443.5 434.5v-4.5"/>
<path stroke="#b8b8b8" d="M464.5 434.5v-4.5"/>
<path stroke="#b8b8b8" d="M485.5 434.5v-4.5"/>
<path stroke="#949494" d="M506.5 434.5v-6.5"/>
<path stroke="#b8b8b8" d="M526.5 434.5v-4.5"/>
<path stroke="#b8b8b8" d="M547.5 434.5v-4.5"/>
<path stroke="#b8b8b8" d="M568.5 434.5v-4.5"/>
<path stroke="#b8b8b8" d="M589.5 434.5v-4.5"/>
<path stroke="#949494" d="M609.5 434.5v-6.5"/>
<path stroke="#b8b8b8" d="M630.5 434.5v-4.5"/>
<path stroke="#b8b8b8" d="M651.5 434.5v-4.5"/>
<path stroke="#b8b8b8" d="M672.5 434.5v-4.5"/>
<path stroke="#b8b8b8" d="M692.5 434.5v-4.5"/>
<path stroke="#949494" d="M713.5 434.5v-6.5"/>
<path stroke="#b8b8b8" d="M734.5 434.5v-4.5"/>
<path stroke="#b8b8b8" d="M755.5 434.5v-4.5"/>
<path stroke="#b8b8b8" d="M775.5 434.5v-4.5"/>
<path stroke="#949494" d="M77.5 434.5V0.5H779.5"/>
<path stroke="#6c6c6c" d="M779.5 0V434.5M77.0 434.5H780.0"/>
</g>
<text x="72" y="18.30" font-size="19.4" text-anchor="end">0.0</text>
<text x="784.8" y="18.30" font-size="19.4" text-anchor="start">0.0</text>
<text x="72" y="84.55" font-size="19.4" text-anchor="end">0.5</text>
<text x="797.8" y="84.55" font-size="19.4" text-anchor="start">0.5</text>
<rect x="35.8" y="78.35" width="11.2" height="1.3" fill="#000"/>
<rect x="785.7" y="78.35" width="10.3" height="1.3" fill="#000"/>
<text x="72" y="150.80" font-size="19.4" text-anchor="end">1.0</text>
<text x="797.8" y="150.80" font-size="19.4" text-anchor="start">1.0</text>
<rect x="35.8" y="144.60" width="11.2" height="1.3" fill="#000"/>
<rect x="785.7" y="144.60" width="10.3" height="1.3" fill="#000"/>
<text x="72" y="217.05" font-size="19.4" text-anchor="end">1.5</text>
<text x="797.8" y="217.05" font-size="19.4" text-anchor="start">1.5</text>
<rect x="35.8" y="210.85" width="11.2" height="1.3" fill="#000"/>
<rect x="785.7" y="210.85" width="10.3" height="1.3" fill="#000"/>
<text x="72" y="283.30" font-size="19.4" text-anchor="end">2.0</text>
<text x="797.8" y="283.30" font-size="19.4" text-anchor="start">2.0</text>
<rect x="35.8" y="277.10" width="11.2" height="1.3" fill="#000"/>
<rect x="785.7" y="277.10" width="10.3" height="1.3" fill="#000"/>
<text x="72" y="349.55" font-size="19.4" text-anchor="end">2.5</text>
<text x="797.8" y="349.55" font-size="19.4" text-anchor="start">2.5</text>
<rect x="35.8" y="343.35" width="11.2" height="1.3" fill="#000"/>
<rect x="785.7" y="343.35" width="10.3" height="1.3" fill="#000"/>
<text x="72" y="415.80" font-size="19.4" text-anchor="end">3.0</text>
<text x="797.8" y="415.80" font-size="19.4" text-anchor="start">3.0</text>
<rect x="35.8" y="409.60" width="11.2" height="1.3" fill="#000"/>
<rect x="785.7" y="409.60" width="10.3" height="1.3" fill="#000"/>
<text x="91.10" y="455.8" font-size="19.4" text-anchor="middle">0.1</text>
<text x="194.85" y="455.8" font-size="19.4" text-anchor="middle">0.2</text>
<text x="298.60" y="455.8" font-size="19.4" text-anchor="middle">0.3</text>
<text x="402.35" y="455.8" font-size="19.4" text-anchor="middle">0.4</text>
<text x="506.10" y="455.8" font-size="19.4" text-anchor="middle">0.5</text>
<text x="609.85" y="455.8" font-size="19.4" text-anchor="middle">0.6</text>
<text x="713.60" y="455.8" font-size="19.4" text-anchor="middle">0.7</text>
<text x="428" y="483.8" font-size="19.4" text-anchor="middle" font-style="italic">r / r<tspan font-size="14" dy="3.4" font-style="normal">1</tspan></text>
<g transform="rotate(-90)" font-size="19.4">
<text x="-264.80" y="16.90" font-style="italic">r</text>
<text x="-257.20" y="19.70" font-size="14">1</text>
<text x="-249.90" y="16.90" font-style="italic">E</text>
<text x="-236.90" y="19.70" font-size="14">0</text>
<text x="-228.20" y="17.30" >+</text>
<text x="-216.05" y="16.90" >const.</text>
</g>
<path d="M505.1 210.8H558.9" stroke="#00009c" stroke-width="2" stroke-dasharray="4.1 4.1" fill="none"/>
<text x="649.6" y="217.8" font-size="19.4" fill="#0000b4" text-anchor="middle" stroke="#0000b4" stroke-width="0.25" word-spacing="0">tree level</text>
<path d="M505.1 230.7H558.9" stroke="#aa00aa" stroke-width="2" stroke-dasharray="8.6 4.5 3.7 4.5" stroke-dashoffset="13.1" fill="none"/>
<text x="649.6" y="235.0" font-size="19.4" fill="#aa00aa" text-anchor="middle" stroke="#aa00aa" stroke-width="0.25" word-spacing="0">1 loop</text>
<path d="M505.1 250.5H558.9" stroke="#ff8800" stroke-width="2" stroke-dasharray="6.8 18" fill="none"/>
<text x="649.6" y="255.0" font-size="19.4" fill="#ff8800" text-anchor="middle" stroke="#ff8800" stroke-width="0.25" word-spacing="0">2 loop</text>
<path d="M505.1 270.5H558.9" stroke="#aa0000" stroke-width="2" stroke-dasharray="18.5 19.3" fill="none"/>
<text x="649.6" y="274.8" font-size="19.4" fill="#aa0000" text-anchor="middle" stroke="#aa0000" stroke-width="0.25" word-spacing="0">3 loop</text>
<path d="M505.1 290.0H558.9" stroke="#000" stroke-width="2" fill="none"/>
<text x="649.6" y="294.2" font-size="19.4" fill="#000" text-anchor="middle" stroke="#000" stroke-width="0.25" word-spacing="0.6">3 loop + us. res.</text>
<g stroke="#ff0000" stroke-width="1" fill="none">
<path d="M116.8 350.2V362.2M113.8 350.2h6M113.8 362.2h6"/>
<path d="M144.0 293.9V305.9M141.0 293.9h6M141.0 305.9h6"/>
<path d="M180.6 246.5V255.5M177.6 246.5h6M177.6 255.5h6"/>
<path d="M222.0 203.6V214.8M219.0 203.6h6M219.0 214.8h6"/>
<path d="M228.5 197.9V208.9M225.5 197.9h6M225.5 208.9h6"/>
<path d="M249.4 182.1V193.1M246.4 182.1h6M246.4 193.1h6"/>
<path d="M279.7 162.1V172.1M276.7 162.1h6M276.7 172.1h6"/>
<path d="M287.4 157.5V168.5M284.4 157.5h6M284.4 168.5h6"/>
<path d="M304.2 148.3V158.3M301.2 148.3h6M301.2 158.3h6"/>
<path d="M317.1 138.2V149.2M314.1 138.2h6M314.1 149.2h6"/>
<path d="M320.0 139.8V150.8M317.0 139.8h6M317.0 150.8h6"/>
<path d="M343.8 130.4V136.4M340.8 130.4h6M340.8 136.4h6"/>
<path d="M346.3 129.7V135.7M343.3 129.7h6M343.3 135.7h6"/>
<path d="M351.5 124.8V135.8M348.5 124.8h6M348.5 135.8h6"/>
<path d="M364.3 117.1V127.1M361.3 117.1h6M361.3 127.1h6"/>
<path d="M369.5 117.3V128.3M366.5 117.3h6M366.5 128.3h6"/>
<path d="M377.0 116.9V122.9M374.0 116.9h6M374.0 122.9h6"/>
<path d="M381.2 115.5V121.5M378.2 115.5h6M378.2 121.5h6"/>
<path d="M386.4 112.8V118.8M383.4 112.8h6M383.4 118.8h6"/>
<path d="M391.1 108.3V119.3M388.1 108.3h6M388.1 119.3h6"/>
<path d="M413.0 100.5V111.9M410.0 100.5h6M410.0 111.9h6"/>
<path d="M414.2 100.5V110.5M411.2 100.5h6M411.2 110.5h6"/>
<path d="M431.3 95.1V105.1M428.3 95.1h6M428.3 105.1h6"/>
<path d="M434.4 93.1V105.1M431.4 93.1h6M431.4 105.1h6"/>
<path d="M445.3 89.6V99.6M442.3 89.6h6M442.3 99.6h6"/>
<path d="M450.2 86.9V98.9M447.2 86.9h6M447.2 98.9h6"/>
<path d="M456.5 85.9V97.9M453.5 85.9h6M453.5 97.9h6"/>
<path d="M469.6 83.4V91.4M466.6 83.4h6M466.6 91.4h6"/>
<path d="M473.3 80.8V92.8M470.3 80.8h6M470.3 92.8h6"/>
<path d="M476.3 81.2V89.2M473.3 81.2h6M473.3 89.2h6"/>
<path d="M479.4 78.4V90.4M476.4 78.4h6M476.4 90.4h6"/>
<path d="M482.5 79.7V87.7M479.5 79.7h6M479.5 87.7h6"/>
<path d="M485.5 78.3V88.3M482.5 78.3h6M482.5 88.3h6"/>
<path d="M492.3 75.1V87.1M489.3 75.1h6M489.3 87.1h6"/>
<path d="M503.2 71.2V83.2M500.2 71.2h6M500.2 83.2h6"/>
<path d="M520.0 71.2V77.2M517.0 71.2h6M517.0 77.2h6"/>
<path d="M526.6 65.1V77.1M523.6 65.1h6M523.6 77.1h6"/>
<path d="M529.7 64.1V76.1M526.7 64.1h6M526.7 76.1h6"/>
<path d="M540.9 62.1V74.1M537.9 62.1h6M537.9 74.1h6"/>
<path d="M544.0 63.0V71.0M541.0 63.0h6M541.0 71.0h6"/>
<path d="M550.1 60.4V70.4M547.1 60.4h6M547.1 70.4h6"/>
<path d="M555.2 58.6V70.6M552.2 58.6h6M552.2 70.6h6"/>
<path d="M558.3 57.4V69.4M555.3 57.4h6M555.3 69.4h6"/>
<path d="M575.4 53.8V64.8M572.4 53.8h6M572.4 64.8h6"/>
<path d="M588.6 50.6V61.6M585.6 50.6h6M585.6 61.6h6"/>
<path d="M600.2 47.7V59.7M597.2 47.7h6M597.2 59.7h6"/>
<path d="M604.3 46.3V58.3M601.3 46.3h6M601.3 58.3h6"/>
<path d="M610.4 47.3V57.3M607.4 47.3h6M607.4 57.3h6"/>
<path d="M620.2 43.2V55.2M617.2 43.2h6M617.2 55.2h6"/>
<path d="M640.5 38.8V50.8M637.5 38.8h6M637.5 50.8h6"/>
<path d="M649.4 38.4V48.4M646.4 38.4h6M646.4 48.4h6"/>
<path d="M652.3 36.2V48.2M649.3 36.2h6M649.3 48.2h6"/>
<path d="M661.3 34.9V46.9M658.3 34.9h6M658.3 46.9h6"/>
<path d="M674.1 32.8V44.8M671.1 32.8h6M671.1 44.8h6"/>
<path d="M681.7 31.1V43.1M678.7 31.1h6M678.7 43.1h6"/>
<path d="M686.0 30.6V42.6M683.0 30.6h6M683.0 42.6h6"/>
<path d="M689.4 29.4V41.4M686.4 29.4h6M686.4 41.4h6"/>
<path d="M698.8 27.5V39.5M695.8 27.5h6M695.8 39.5h6"/>
<path d="M709.8 26.5V36.5M706.8 26.5h6M706.8 36.5h6"/>
<path d="M714.1 25.0V37.0M711.1 25.0h6M711.1 37.0h6"/>
<path d="M719.2 24.3V36.3M716.2 24.3h6M716.2 36.3h6"/>
<path d="M724.3 23.8V35.8M721.3 23.8h6M721.3 35.8h6"/>
<path d="M728.6 24.0V34.0M725.6 24.0h6M725.6 34.0h6"/>
<path d="M732.8 22.1V34.1M729.8 22.1h6M729.8 34.1h6"/>
<path d="M738.0 20.4V32.4M735.0 20.4h6M735.0 32.4h6"/>
<path d="M749.0 18.4V30.4M746.0 18.4h6M746.0 30.4h6"/>
<path d="M755.0 17.5V29.5M752.0 17.5h6M752.0 29.5h6"/>
<path d="M762.3 16.1V28.1M759.3 16.1h6M759.3 28.1h6"/>
</g><g fill="#ff0000">
<circle cx="116.8" cy="356.2" r="3.7"/>
<circle cx="144.0" cy="299.9" r="3.7"/>
<circle cx="180.6" cy="251.0" r="3.7"/>
<circle cx="198.9" cy="225.7" r="3.7"/>
<circle cx="222.0" cy="209.2" r="3.7"/>
<circle cx="225.8" cy="200.9" r="3.7"/>
<circle cx="228.5" cy="203.4" r="3.7"/>
<circle cx="249.4" cy="187.6" r="3.7"/>
<circle cx="254.8" cy="179.6" r="3.7"/>
<circle cx="273.4" cy="168.2" r="3.7"/>
<circle cx="274.9" cy="170.0" r="3.7"/>
<circle cx="279.7" cy="167.1" r="3.7"/>
<circle cx="287.4" cy="163.0" r="3.7"/>
<circle cx="294.2" cy="155.9" r="3.7"/>
<circle cx="304.2" cy="153.3" r="3.7"/>
<circle cx="317.1" cy="143.7" r="3.7"/>
<circle cx="320.0" cy="145.3" r="3.7"/>
<circle cx="343.8" cy="133.4" r="3.7"/>
<circle cx="346.3" cy="132.7" r="3.7"/>
<circle cx="351.5" cy="130.3" r="3.7"/>
<circle cx="364.3" cy="122.1" r="3.7"/>
<circle cx="369.5" cy="122.8" r="3.7"/>
<circle cx="377.0" cy="119.9" r="3.7"/>
<circle cx="381.2" cy="118.5" r="3.7"/>
<circle cx="386.4" cy="115.8" r="3.7"/>
<circle cx="391.1" cy="113.8" r="3.7"/>
<circle cx="413.0" cy="106.2" r="3.7"/>
<circle cx="414.2" cy="105.5" r="3.7"/>
<circle cx="431.3" cy="100.1" r="3.7"/>
<circle cx="434.4" cy="99.1" r="3.7"/>
<circle cx="445.3" cy="94.6" r="3.7"/>
<circle cx="450.2" cy="92.9" r="3.7"/>
<circle cx="456.5" cy="91.9" r="3.7"/>
<circle cx="469.6" cy="87.4" r="3.7"/>
<circle cx="473.3" cy="86.8" r="3.7"/>
<circle cx="476.3" cy="85.2" r="3.7"/>
<circle cx="479.4" cy="84.4" r="3.7"/>
<circle cx="482.5" cy="83.7" r="3.7"/>
<circle cx="485.5" cy="83.3" r="3.7"/>
<circle cx="492.3" cy="81.1" r="3.7"/>
<circle cx="503.2" cy="77.2" r="3.7"/>
<circle cx="520.0" cy="74.2" r="3.7"/>
<circle cx="526.6" cy="71.1" r="3.7"/>
<circle cx="529.7" cy="70.1" r="3.7"/>
<circle cx="540.9" cy="68.1" r="3.7"/>
<circle cx="544.0" cy="67.0" r="3.7"/>
<circle cx="550.1" cy="65.4" r="3.7"/>
<circle cx="555.2" cy="64.6" r="3.7"/>
<circle cx="558.3" cy="63.4" r="3.7"/>
<circle cx="565.8" cy="61.5" r="3.7"/>
<circle cx="575.4" cy="59.3" r="3.7"/>
<circle cx="577.2" cy="58.7" r="3.7"/>
<circle cx="588.6" cy="56.1" r="3.7"/>
<circle cx="590.3" cy="55.5" r="3.7"/>
<circle cx="600.2" cy="53.7" r="3.7"/>
<circle cx="604.3" cy="52.3" r="3.7"/>
<circle cx="610.4" cy="52.3" r="3.7"/>
<circle cx="620.2" cy="49.2" r="3.7"/>
<circle cx="640.5" cy="44.8" r="3.7"/>
<circle cx="649.4" cy="43.4" r="3.7"/>
<circle cx="652.3" cy="42.2" r="3.7"/>
<circle cx="661.3" cy="40.9" r="3.7"/>
<circle cx="674.1" cy="38.8" r="3.7"/>
<circle cx="681.7" cy="37.1" r="3.7"/>
<circle cx="686.0" cy="36.6" r="3.7"/>
<circle cx="689.4" cy="35.4" r="3.7"/>
<circle cx="698.8" cy="33.5" r="3.7"/>
<circle cx="700.7" cy="32.9" r="3.7"/>
<circle cx="709.8" cy="31.5" r="3.7"/>
<circle cx="714.1" cy="31.0" r="3.7"/>
<circle cx="719.2" cy="30.3" r="3.7"/>
<circle cx="724.3" cy="29.8" r="3.7"/>
<circle cx="728.6" cy="29.0" r="3.7"/>
<circle cx="732.8" cy="28.1" r="3.7"/>
<circle cx="738.0" cy="26.4" r="3.7"/>
<circle cx="749.0" cy="24.4" r="3.7"/>
<circle cx="755.0" cy="23.5" r="3.7"/>
<circle cx="762.3" cy="22.1" r="3.7"/>
</g>
</svg></body></html>
